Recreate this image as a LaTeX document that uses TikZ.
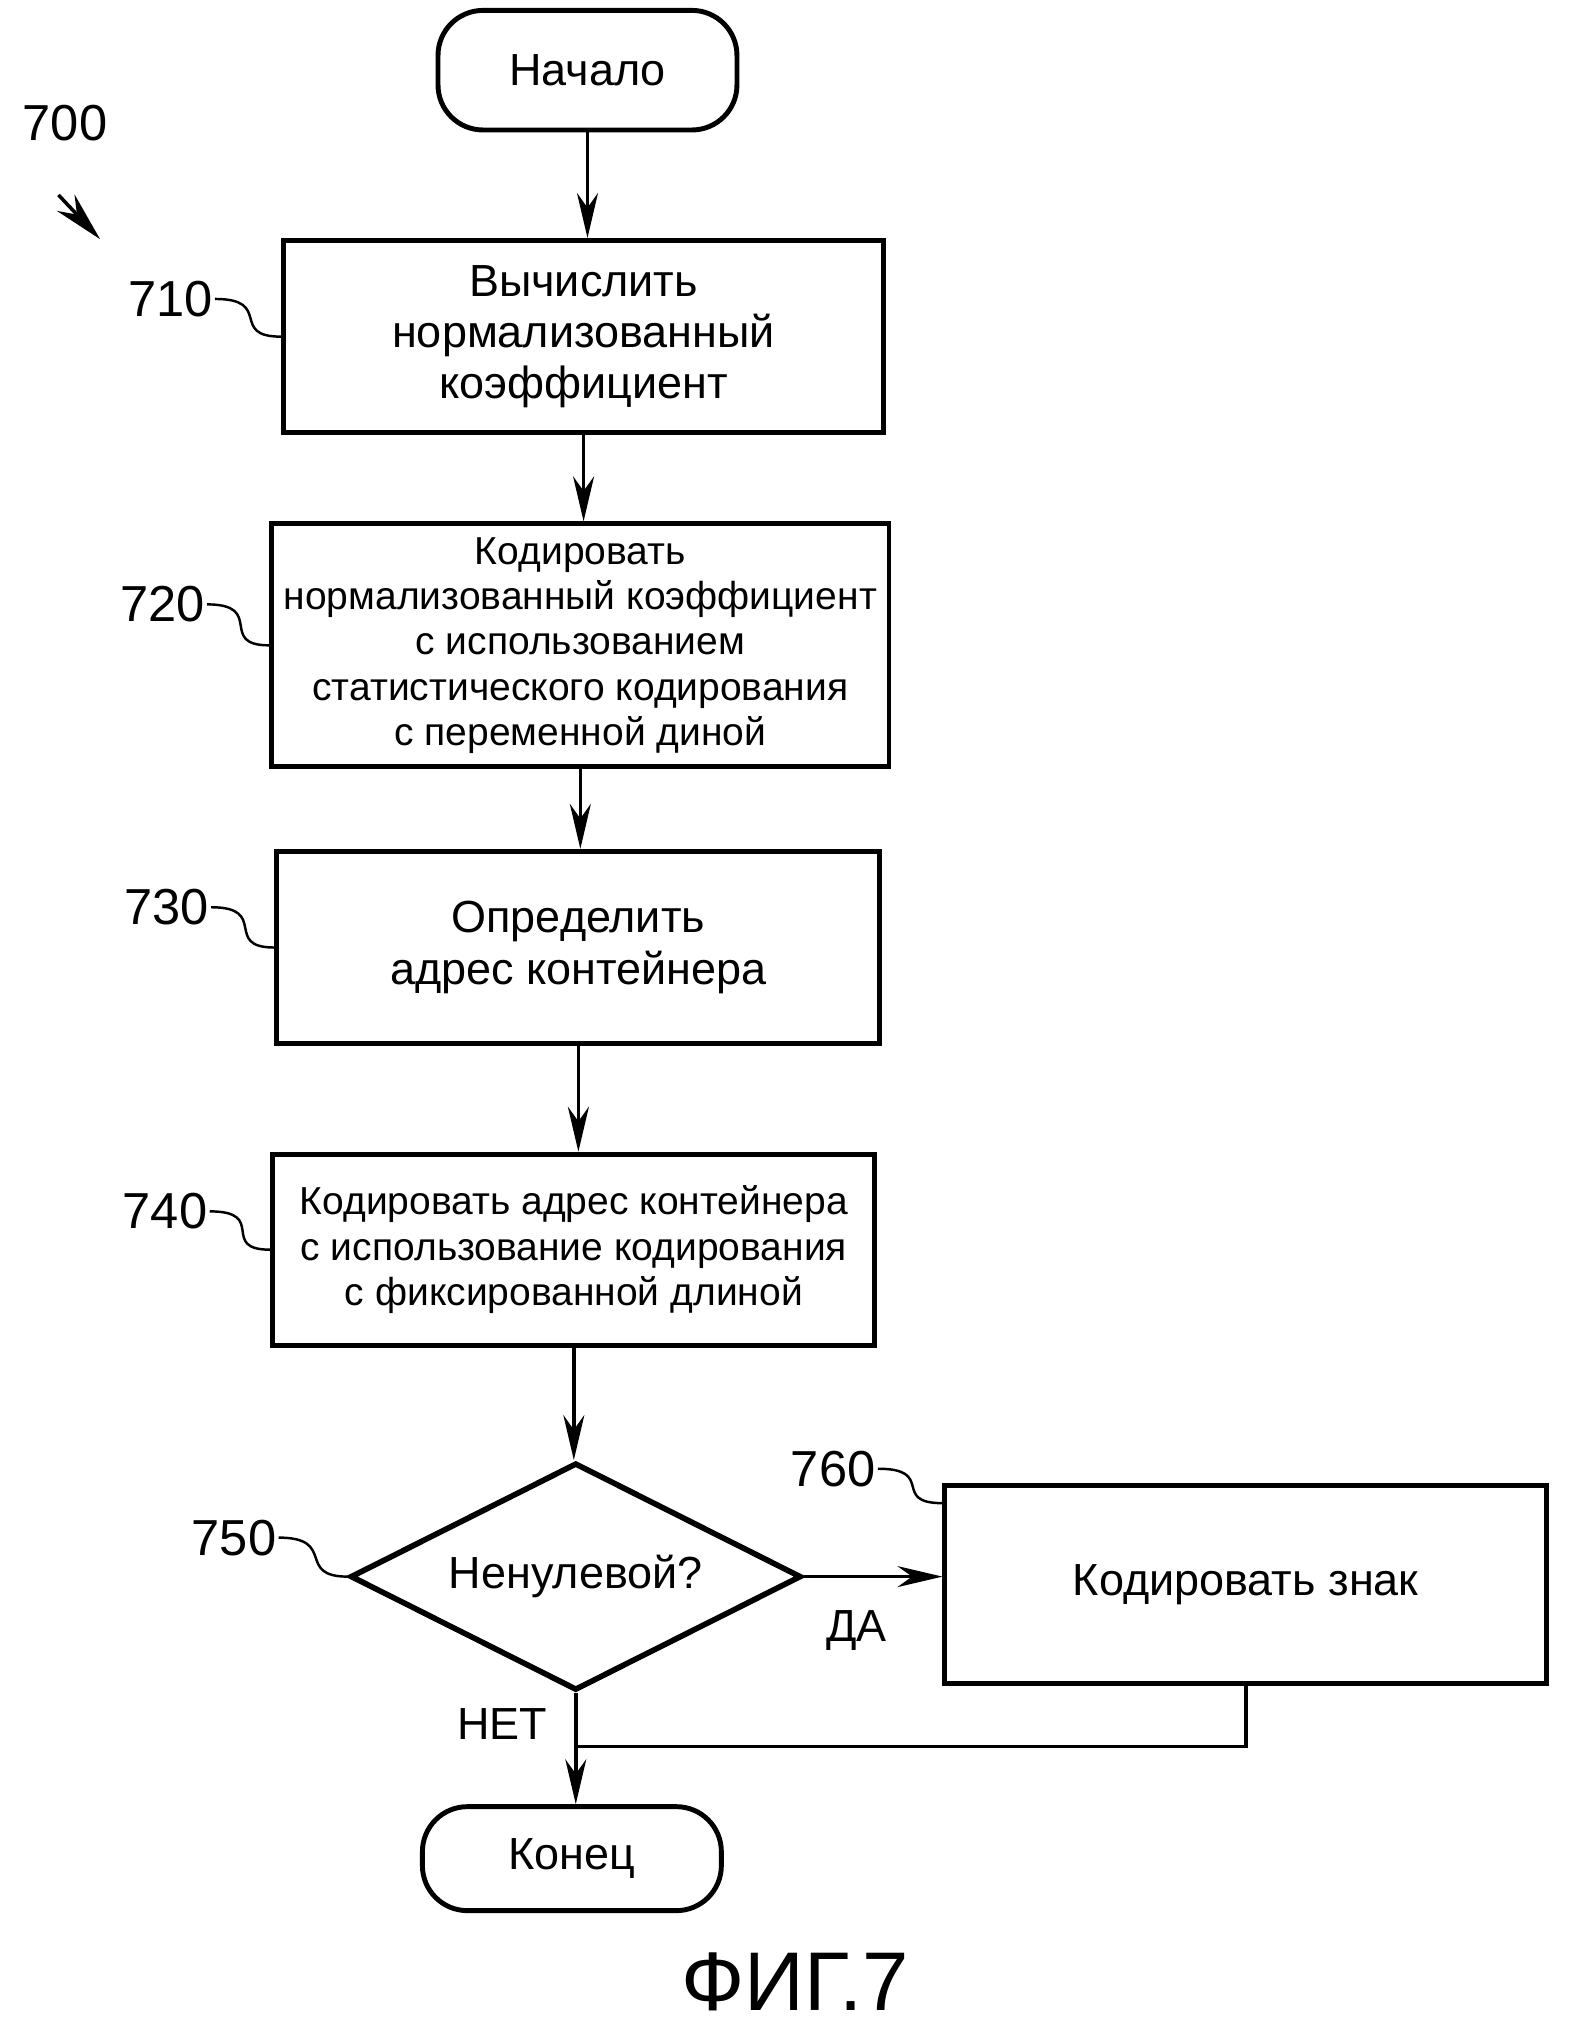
\documentclass[tikz,border=0pt]{standalone}
\usepackage{fontspec}
\setmainfont{Liberation Sans}
\usetikzlibrary{shapes.geometric,arrows.meta,calc}

\tikzset{
	block/.style={draw, line width=1.4pt, align=center, inner sep=1mm, font=\fontsize{12.8}{14.6}\selectfont},
	tightblock/.style={block, font=\fontsize{11.1}{12.9}\selectfont},
	term/.style={draw, line width=1.4pt, rounded corners=4.5mm, minimum width=29.9mm, font=\fontsize{12.8}{14}\selectfont},
	decision/.style={draw, diamond, aspect=2, line width=1.6pt, inner sep=0pt, minimum width=45.1mm, minimum height=22.75mm, font=\fontsize{12.8}{14}\selectfont},
	numlabel/.style={inner sep=0.5pt, font=\fontsize{14.4}{16}\selectfont},
	flow/.style={-{Stealth[length=4.5mm,width=2.1mm]}, line width=1pt},
	ret/.style={line width=1pt},
	lead/.style={line width=0.7pt},
}

\begin{document}
\begin{tikzpicture}[x=0.13mm, y=-0.13mm]
	\useasboundingbox (0,0) rectangle (1215,1568);

	\node[term, minimum height=11.96mm] (start) at (452,54) {Начало};
	\node[block, minimum width=60.06mm, minimum height=19.24mm] (b710) at (449,259) {Вычислить\\нормализованный\\коэффициент};
	\node[tightblock, minimum width=61.75mm, minimum height=24.31mm] (b720) at (446.5,496.5) {Кодировать\\нормализованный коэффициент\\с использованием\\статистического кодирования\\с переменной диной};
	\node[block, minimum width=60.32mm, minimum height=19.24mm] (b730) at (445,729) {Определить\\адрес контейнера};
	\node[tightblock, minimum width=60.19mm, minimum height=19.11mm] (b740) at (441.5,961.5) {Кодировать адрес контейнера\\с использование кодирования\\с фиксированной длиной};
	\node[decision] (d750) at (443,1213) {Ненулевой?};
	\node[block, minimum width=60.19mm, minimum height=19.76mm] (b760) at (958.5,1219) {Кодировать знак};
	\node[term, minimum height=10.4mm] (stop) at (440,1430) {Конец};

	\node[numlabel] (l700) at (50,95) {700};
	\node[numlabel] (l710) at (131,230) {710};
	\node[numlabel] (l720) at (125,465) {720};
	\node[numlabel] (l730) at (128,698) {730};
	\node[numlabel] (l740) at (127,932) {740};
	\node[numlabel] (l750) at (180,1183) {750};
	\node[numlabel] (l760) at (641,1130) {760};
	\node[font=\fontsize{23.7}{26}\selectfont] (fig) at (612,1525) {ФИГ.7};

	\coordinate (p700s) at (45,150);
	\coordinate (p700e) at (77,184);
	\coordinate (join) at ($(d750.south)!0.48!(stop.north)$);

	\draw[flow, -{Stealth[length=5mm,width=2.4mm]}] (p700s) -- (p700e);
	\draw[lead] (l710.east) .. controls +(45,0) and +(-40,0) .. (b710.west);
	\draw[lead] (l720.east) .. controls +(45,0) and +(-40,0) .. (b720.west);
	\draw[lead] (l730.east) .. controls +(45,0) and +(-40,0) .. (b730.west);
	\draw[lead] (l740.east) .. controls +(45,0) and +(-40,0) .. (b740.west);
	\draw[lead] (l750.east) .. controls +(45,0) and +(-40,0) .. (d750.west);
	\draw[lead] (l760.east) .. controls +(45,0) and +(-40,0) .. ([yshift=-2mm]b760.north west);

	\draw[flow] (start) -- (start |- b710.north);
	\draw[flow] (b710) -- (b710 |- b720.north);
	\draw[flow] (b720) -- (b720 |- b730.north);
	\draw[flow] (b730) -- (b730 |- b740.north);
	\draw[flow] (b740) -- (b740 |- d750.north);
	\draw[flow] (d750.east) -- (d750.east -| b760.west) node[pos=0.38, below=2mm, font=\fontsize{12.8}{14}\selectfont]{ДА};
	\draw[flow] (d750.south) -- (d750.south |- stop.north) node[pos=0.28, left=1.5mm, font=\fontsize{12.8}{14}\selectfont]{НЕТ};
	\draw[ret] (b760.south) |- (join);
\end{tikzpicture}
\end{document}
